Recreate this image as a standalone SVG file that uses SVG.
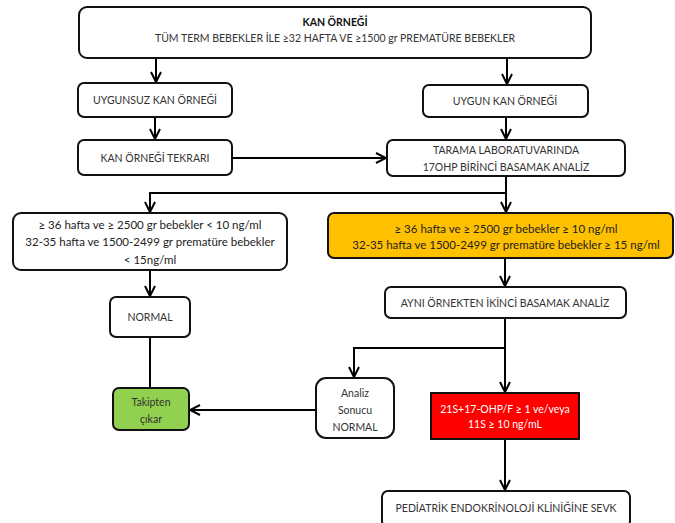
<svg xmlns="http://www.w3.org/2000/svg" width="675" height="523" viewBox="0 0 675 523">
<style>
.box{fill:#fff;stroke:#111;stroke-width:2}
.yel{fill:#FFC000;stroke:#111;stroke-width:2}
.grn{fill:#92D050;stroke:#111;stroke-width:2}
.red{fill:#FF0000;stroke:#111;stroke-width:2}
text{font-family:Lato,"Liberation Sans",sans-serif;font-size:10.5px;fill:#333;text-anchor:middle}
.b{font-weight:bold;fill:#111}
.w{fill:#fff}
.lg{font-size:11.5px;fill:#222}
.c line,.c path{stroke:#000;stroke-width:2;fill:none}
</style>
<defs>
<marker id="ah" viewBox="0 0 12 12" refX="11" refY="6" markerWidth="12" markerHeight="12" markerUnits="userSpaceOnUse" orient="auto">
<path d="M1,1 L11,6 L1,11" fill="none" stroke="#000" stroke-width="2"/>
</marker>
</defs>
<g class="c">
<line x1="156" y1="58" x2="156" y2="82" marker-end="url(#ah)"/>
<line x1="507" y1="58" x2="507" y2="84" marker-end="url(#ah)"/>
<line x1="155" y1="117" x2="155" y2="139" marker-end="url(#ah)"/>
<line x1="506" y1="117" x2="506" y2="139" marker-end="url(#ah)"/>
<line x1="232" y1="158" x2="386" y2="158" marker-end="url(#ah)"/>
<path d="M506,176 V193 H150 V212" marker-end="url(#ah)"/>
<line x1="506" y1="193" x2="506" y2="212" marker-end="url(#ah)"/>
<line x1="150" y1="270" x2="150" y2="296" marker-end="url(#ah)"/>
<line x1="150" y1="337" x2="150" y2="388"/>
<line x1="505" y1="258" x2="505" y2="286" marker-end="url(#ah)"/>
<line x1="505" y1="318" x2="505" y2="392" marker-end="url(#ah)"/>
<path d="M505,348 H354 V377" marker-end="url(#ah)"/>
<line x1="316" y1="410" x2="190" y2="410" marker-end="url(#ah)"/>
<line x1="505" y1="439" x2="505" y2="490" marker-end="url(#ah)"/>
</g>
<g id="kan">
<rect class="box" x="79" y="7" width="512" height="51" rx="8"/>
<text class="b" x="335" y="26">KAN ÖRNEĞİ</text>
<text x="335" y="42">TÜM TERM BEBEKLER İLE ≥32 HAFTA VE ≥1500 gr PREMATÜRE BEBEKLER</text>
</g>
<g id="uygunsuz">
<rect class="box" x="78" y="83" width="154" height="34" rx="6"/>
<text x="155" y="104">UYGUNSUZ KAN ÖRNEĞİ</text>
</g>
<g id="tekrar">
<rect class="box" x="78" y="140" width="154" height="35" rx="6"/>
<text x="155" y="162">KAN ÖRNEĞİ TEKRARI</text>
</g>
<g id="uygun">
<rect class="box" x="423" y="85" width="165" height="32" rx="6"/>
<text x="505" y="105">UYGUN KAN ÖRNEĞİ</text>
</g>
<g id="tarama">
<rect class="box" x="387" y="140" width="238" height="36" rx="6"/>
<text x="506" y="154">TARAMA LABORATUVARINDA</text>
<text x="506" y="171">17OHP BİRİNCİ BASAMAK ANALİZ</text>
</g>
<g id="normaldeger">
<rect class="box" x="13" y="213" width="274" height="57" rx="8"/>
<text class="lg" x="150" y="229">≥ 36 hafta ve ≥ 2500 gr bebekler &lt; 10 ng/ml</text>
<text class="lg" x="150" y="246">32-35 hafta ve 1500-2499 gr prematüre bebekler</text>
<text class="lg" x="150" y="264">&lt; 15ng/ml</text>
</g>
<g id="yuksek">
<rect class="yel" x="328" y="213" width="345" height="45" rx="6"/>
<text class="lg" x="506" y="233">≥ 36 hafta ve ≥ 2500 gr bebekler ≥ 10 ng/ml</text>
<text class="lg" x="506" y="249">32-35 hafta ve 1500-2499 gr prematüre bebekler ≥ 15 ng/ml</text>
</g>
<g id="normal">
<rect class="box" x="110" y="297" width="80" height="40" rx="6"/>
<text x="150" y="321">NORMAL</text>
</g>
<g id="ayni">
<rect class="box" x="385" y="287" width="241" height="31" rx="6"/>
<text x="505" y="307">AYNI ÖRNEKTEN İKİNCİ BASAMAK ANALİZ</text>
</g>
<g id="takip">
<rect class="grn" x="113" y="388" width="76" height="42" rx="6"/>
<text x="151" y="406">Takipten</text>
<text x="151" y="423">çıkar</text>
</g>
<g id="analiz">
<rect class="box" x="316" y="378" width="78" height="60" rx="10"/>
<text x="355" y="397">Analiz</text>
<text x="355" y="414">Sonucu</text>
<text x="355" y="431">NORMAL</text>
</g>
<g id="kirmizi">
<rect class="red" x="431" y="393" width="148" height="46"/>
<text class="w" x="505" y="413">21S+17-OHP/F ≥ 1 ve/veya</text>
<text class="w" x="505" y="428">11S ≥ 10 ng/mL</text>
</g>
<g id="sevk">
<rect class="box" x="382" y="491" width="248" height="36" rx="6"/>
<text x="506" y="512">PEDİATRİK ENDOKRİNOLOJİ KLİNİĞİNE SEVK</text>
</g>
</svg>
